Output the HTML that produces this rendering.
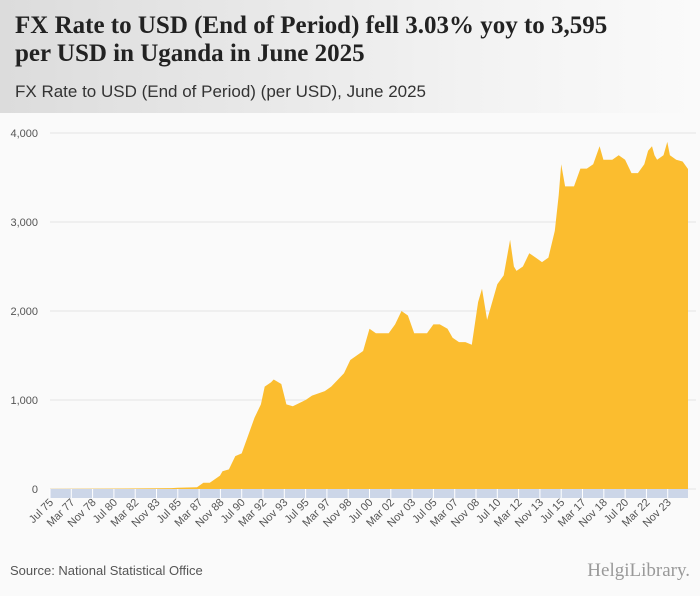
<!DOCTYPE html>
<html><head><meta charset="utf-8"><style>
body{margin:0;width:700px;height:596px;background:#fafafa;font-family:"Liberation Sans",sans-serif;overflow:hidden}
#hdr{position:absolute;left:0;top:0;width:700px;height:113px;background:linear-gradient(90deg,#dcdcdc,#f3f3f3 70%,#fafafa)}
#t{position:absolute;left:15px;top:12px;font:bold 25px "Liberation Serif",serif;color:#222;line-height:28px}
#s{position:absolute;left:15px;top:82px;font-size:17px;color:#333}
#src{position:absolute;left:10px;top:563px;font-size:13px;color:#555}
#logo{position:absolute;right:10px;top:560px;font:19px "Liberation Serif",serif;color:#999}
</style></head><body>
<div id="hdr"></div>
<div id="t">FX Rate to USD (End of Period) fell 3.03% yoy to 3,595<br>per USD in Uganda in June 2025</div>
<div id="s">FX Rate to USD (End of Period) (per USD), June 2025</div>
<svg id="c" width="700" height="596" style="position:absolute;left:0;top:0"></svg>
<div id="src">Source: National Statistical Office</div>
<div id="logo">HelgiLibrary.</div>
<script>
const years=[1975.5,1980,1985,1985.5,1987,1987.5,1988,1988.8,1989,1989.5,1990,1990.5,1991,1991.5,1992,1992.3,1992.8,1993,1993.6,1994,1994.5,1995.5,1996,1997,1997.5,1998.5,1999,1999.5,2000,2000.5,2001,2002,2002.5,2003,2003.5,2004,2005,2005.5,2006,2006.6,2007,2007.5,2008,2008.5,2009,2009.3,2009.7,2010,2010.5,2011,2011.5,2011.8,2012,2012.5,2013,2013.5,2014,2014.5,2015,2015.3,2015.5,2015.8,2016,2016.5,2017,2017.5,2018,2018.5,2018.8,2019,2019.5,2020,2020.5,2021,2021.5,2022,2022.3,2022.6,2022.8,2023,2023.5,2023.8,2024,2024.5,2025,2025.42];
const values=[1,5,10,15,20,70,70,150,200,220,370,400,600,800,950,1150,1200,1230,1180,950,930,1000,1050,1100,1150,1300,1450,1500,1550,1800,1750,1750,1850,2000,1950,1750,1750,1850,1850,1800,1700,1650,1650,1620,2100,2250,1900,2050,2300,2400,2800,2500,2450,2500,2650,2600,2550,2600,2900,3300,3650,3400,3400,3400,3600,3600,3650,3850,3700,3700,3700,3750,3700,3550,3550,3650,3800,3850,3750,3700,3750,3900,3750,3700,3680,3595];
const yTicks=[0,1000,2000,3000,4000];
const xLabels=["Jul 75","Mar 77","Nov 78","Jul 80","Mar 82","Nov 83","Jul 85","Mar 87","Nov 88","Jul 90","Mar 92","Nov 93","Jul 95","Mar 97","Nov 98","Jul 00","Mar 02","Nov 03","Jul 05","Mar 07","Nov 08","Jul 10","Mar 12","Nov 13","Jul 15","Mar 17","Nov 18","Jul 20","Mar 22","Nov 23"];
const NS="http://www.w3.org/2000/svg",svg=document.getElementById('c');
const x0=50,x1=688,y0=489,y1=133,t0=1975.5,t1=2025.42;
const X=t=>x0+(t-t0)/(t1-t0)*(x1-x0), Y=v=>y0-v/4000*(y0-y1);
function mk(tag,a){const e=document.createElementNS(NS,tag);for(const k in a)e.setAttribute(k,a[k]);svg.appendChild(e);return e;}
yTicks.forEach(v=>{
 const l=mk('line',{x1:x0,x2:x1+8,y1:Y(v),y2:Y(v),stroke:'#e4e4e4'});
 
 
 const t=mk('text',{x:38,y:Y(v)+4,'text-anchor':'end','font-size':11,fill:'#555'});t.textContent=v.toLocaleString('en-US');
 
 
});
let d='M'+X(years[0])+','+y0;
years.forEach((t,i)=>{d+=' L'+X(t).toFixed(1)+','+Y(values[i]).toFixed(1);});
d+=' L'+X(years[years.length-1])+','+y0+' Z';
const a=mk('path',{d:d,fill:'#fbbd2f'});


const band=mk('rect',{x:x0,y:y0,width:x1-x0,height:9,fill:'#ccd6e8'});


xLabels.forEach((s,i)=>{
 const t=t0+i*20/12, px=X(t);
 const tk=mk('line',{x1:px,x2:px,y1:y0,y2:y0+9,stroke:'#fff'});
 
 
 const tx=mk('text',{x:px+4,y:y0+14,'text-anchor':'end','font-size':11,fill:'#555',transform:`rotate(-45 ${px+4} ${y0+14})`});
 tx.textContent=s;
 
 
});
</script>
</body></html>
